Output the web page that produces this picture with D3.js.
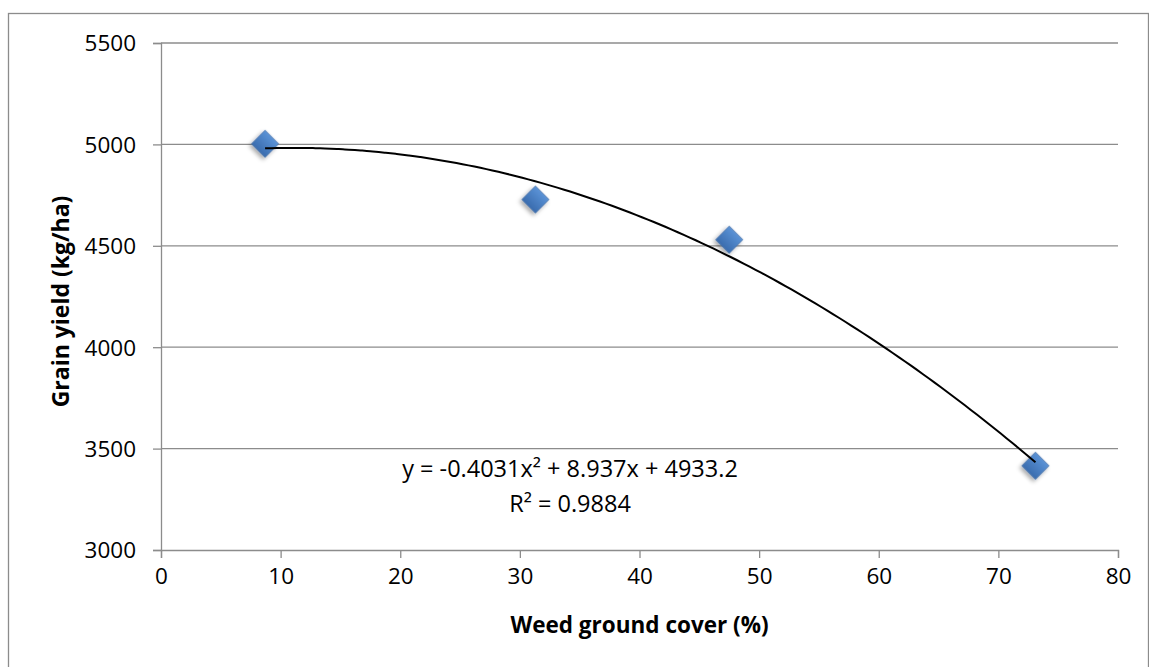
<!DOCTYPE html>
<html>
<head>
<meta charset="utf-8">
<script src="https://cdn.jsdelivr.net/npm/d3@7"></script>
<style>
  body { margin: 0; background: #fff; }
  text { font-family: "Open Sans", "Noto Sans", sans-serif; fill: #000; }
</style>
</head>
<body>
<svg id="chart" width="1149" height="667"></svg>
<script>
// data
const weedCover = [8.7, 31.3, 47.5, 73.1];
const grainYield = [5003, 4728, 4530, 3415];
// polynomial trendline shown on the chart: a*x^2 + b*x + c
const trendCoef = [-0.4031, 8.937, 4933.2];
const xTicks = [0, 10, 20, 30, 40, 50, 60, 70, 80];
const yTicks = [3000, 3500, 4000, 4500, 5000, 5500];
const eqLines = ["y = -0.4031x\u00B2 + 8.937x + 4933.2", "R\u00B2 = 0.9884"];

const svg = d3.select("#chart");
const plotL = 161, plotR = 1118, plotT = 43, plotB = 550;

const x = d3.scaleLinear().domain([0, 80]).range([plotL, plotR]);
const y = d3.scaleLinear().domain([3000, 5500]).range([plotB, plotT]);

// outer frame
svg.append("rect")
  .attr("x", 8.5).attr("y", 13.5)
  .attr("width", 1140).attr("height", 700)
  .attr("fill", "none").attr("stroke", "#8c8c8c").attr("stroke-width", 1.3);

// defs: gradient + shadow for markers
const defs = svg.append("defs");
const grad = defs.append("linearGradient").attr("id", "mk")
  .attr("x1", 0).attr("y1", 0).attr("x2", 0).attr("y2", 1);
grad.append("stop").attr("offset", "0%").attr("stop-color", "#5a92d6");
grad.append("stop").attr("offset", "100%").attr("stop-color", "#3a6cae");
const shadow = defs.append("filter").attr("id", "sh")
  .attr("x", "-50%").attr("y", "-50%").attr("width", "200%").attr("height", "200%");
shadow.append("feDropShadow")
  .attr("dx", 0).attr("dy", 3).attr("stdDeviation", 2.2)
  .attr("flood-color", "#000").attr("flood-opacity", 0.35);

// gridlines
svg.append("g")
  .selectAll("line")
  .data(yTicks.filter(d => d > 3000))
  .enter().append("line")
  .attr("x1", plotL).attr("x2", plotR)
  .attr("y1", d => y(d)).attr("y2", d => y(d))
  .attr("stroke", "#8c8c8c").attr("stroke-width", 1.3);

// y axis
const yAxis = svg.append("g")
  .attr("transform", `translate(${plotL},0)`)
  .call(d3.axisLeft(y).tickValues(yTicks).tickSize(8).tickPadding(17).tickFormat(d3.format("d")));
yAxis.selectAll("text").style("font-size", "22.5px").attr("dy", "0.35em");

// x axis
const xAxis = svg.append("g")
  .attr("transform", `translate(0,${plotB})`)
  .call(d3.axisBottom(x).tickValues(xTicks).tickSize(8).tickPadding(10).tickFormat(d3.format("d")));
xAxis.selectAll("text").style("font-size", "22.5px");

[yAxis, xAxis].forEach(a => {
  a.select(".domain").attr("stroke", "#8c8c8c").attr("stroke-width", 1.3);
  a.selectAll(".tick line").attr("stroke", "#8c8c8c").attr("stroke-width", 1.3);
});

// trendline
const lastX = weedCover[weedCover.length - 1];
const poly = v => trendCoef[0] * v * v + trendCoef[1] * v + trendCoef[2];
const trend = d3.range(weedCover[0], lastX, 0.5).map(v => [v, poly(v)]);
trend.push([lastX, poly(lastX)]);

// markers
svg.append("g")
  .selectAll("path")
  .data(weedCover)
  .enter().append("path")
  .attr("d", d3.symbol(d3.symbolSquare, 370))
  .attr("transform", (d, i) => `translate(${x(d)},${y(grainYield[i])}) rotate(45)`)
  .attr("fill", "url(#mk)")
  .attr("stroke", "#3d6aa3").attr("stroke-width", 0.6)
  .attr("filter", "url(#sh)");

svg.append("path")
  .datum(trend)
  .attr("d", d3.line().x(d => x(d[0])).y(d => y(d[1])).curve(d3.curveMonotoneX))
  .attr("fill", "none").attr("stroke", "#000").attr("stroke-width", 2);

// equation label
svg.append("g")
  .selectAll("text")
  .data(eqLines)
  .enter().append("text")
  .attr("x", 570)
  .attr("y", (d, i) => 477 + i * 35)
  .attr("text-anchor", "middle")
  .style("font-size", "23.5px")
  .text(d => d);

// axis titles
svg.append("text")
  .attr("x", (plotL + plotR) / 2).attr("y", 633)
  .attr("text-anchor", "middle")
  .style("font-size", "22.5px").style("font-weight", "bold")
  .text("Weed ground cover (%)");

svg.append("text")
  .attr("transform", `translate(69,${(plotT + plotB) / 2 + 5}) rotate(-90)`)
  .attr("text-anchor", "middle")
  .style("font-size", "23px").style("font-weight", "bold")
  .text("Grain yield (kg/ha)");
</script>
</body>
</html>
